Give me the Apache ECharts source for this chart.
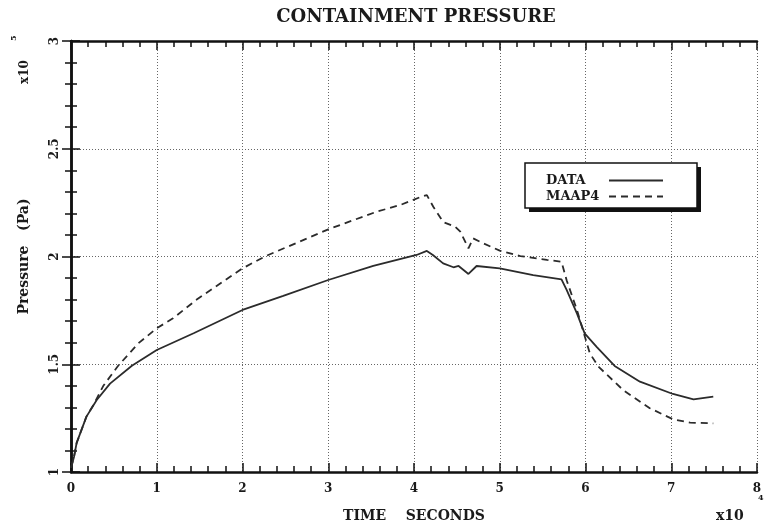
<!DOCTYPE html>
<html>
<head>
<meta charset="utf-8">
<script src="https://cdn.jsdelivr.net/npm/echarts@6/dist/echarts.min.js"></script>
<style>
html,body{margin:0;padding:0;background:#fff;}
#chart{width:770px;height:531px;}
</style>
</head>
<body>
<div id="chart"></div>
<script>
// Time in units of 1e4 s, pressure in units of 1e5 Pa
const dataT = [0, 0.035, 0.066, 0.18, 0.30, 0.455, 0.71, 1.0, 1.43, 2.0, 2.475, 3.0, 3.525, 4.03, 4.15, 4.22, 4.34, 4.46, 4.52, 4.635, 4.73, 5.0, 5.39, 5.72, 5.78, 5.9, 5.99, 6.13, 6.34, 6.635, 7.02, 7.26, 7.49];
const dataP = [1.02, 1.07, 1.135, 1.257, 1.334, 1.41, 1.493, 1.566, 1.644, 1.752, 1.817, 1.891, 1.956, 2.007, 2.026, 2.007, 1.968, 1.95, 1.956, 1.919, 1.956, 1.945, 1.914, 1.894, 1.845, 1.736, 1.643, 1.581, 1.492, 1.419, 1.362, 1.337, 1.35];

const maapT = [0, 0.035, 0.066, 0.18, 0.26, 0.377, 0.55, 0.785, 1.0, 1.19, 1.466, 2.0, 2.26, 3.0, 3.565, 3.84, 4.07, 4.15, 4.225, 4.34, 4.48, 4.54, 4.635, 4.69, 4.81, 5.0, 5.24, 5.55, 5.72, 5.78, 5.9, 5.975, 6.05, 6.15, 6.44, 6.75, 7.02, 7.22, 7.49];
const maapP = [1.02, 1.07, 1.135, 1.257, 1.31, 1.40, 1.493, 1.597, 1.667, 1.713, 1.80, 1.945, 2.0, 2.126, 2.208, 2.239, 2.275, 2.285, 2.231, 2.16, 2.138, 2.115, 2.038, 2.084, 2.061, 2.027, 2.002, 1.984, 1.976, 1.89, 1.752, 1.651, 1.551, 1.489, 1.38, 1.296, 1.245, 1.229, 1.226];

const seriesNames = ['DATA', 'MAAP4'];
const xTicks = {min: 0, max: 8, interval: 1};
const yTicks = {min: 1, max: 3, interval: 0.5};

const FONT = 'DejaVu Serif';
const INK = '#1a1a1a';

function zip(a, b) { return a.map((v, i) => [v, b[i]]); }

const chart = echarts.init(document.getElementById('chart'), null, {renderer: 'canvas'});

const axisLineStyle = {show: true, lineStyle: {color: '#111', width: 2.5}};
const tickStyle = {show: true, inside: true, length: 9, lineStyle: {color: '#111', width: 1.5}};
const minorStyle = {show: true, splitNumber: 5, length: 6, lineStyle: {color: '#111', width: 1.5}};

const option = {
  backgroundColor: '#fff',
  animation: false,
  grid: {left: 71, right: 13, top: 41, bottom: 59, containLabel: false},
  xAxis: [{
    type: 'value', min: xTicks.min, max: xTicks.max, interval: xTicks.interval,
    position: 'bottom',
    axisLine: axisLineStyle, axisTick: tickStyle, minorTick: minorStyle,
    splitLine: {show: true, lineStyle: {color: '#666', width: 1, type: [1, 2]}},
    axisLabel: {margin: 11, color: INK, fontFamily: FONT, fontWeight: 'bold', fontSize: 12},
    name: 'TIME    SECONDS', nameLocation: 'middle', nameGap: 37,
    nameTextStyle: {color: INK, fontFamily: FONT, fontWeight: 'bold', fontSize: 14}
  }, {
    type: 'value', min: xTicks.min, max: xTicks.max, interval: xTicks.interval,
    position: 'top',
    axisLine: axisLineStyle, axisTick: tickStyle, minorTick: minorStyle,
    splitLine: {show: false}, axisLabel: {show: false}
  }],
  yAxis: [{
    type: 'value', min: yTicks.min, max: yTicks.max, interval: yTicks.interval,
    position: 'left',
    axisLine: axisLineStyle, axisTick: tickStyle, minorTick: minorStyle,
    splitLine: {show: true, lineStyle: {color: '#666', width: 1, type: [1, 2]}},
    axisLabel: {margin: 10, rotate: 90, color: INK, fontFamily: FONT, fontWeight: 'bold', fontSize: 12},
    name: 'Pressure   (Pa)', nameLocation: 'middle', nameGap: 40, nameRotate: 90,
    nameTextStyle: {color: INK, fontFamily: FONT, fontWeight: 'bold', fontSize: 14}
  }, {
    type: 'value', min: yTicks.min, max: yTicks.max, interval: yTicks.interval,
    position: 'right',
    axisLine: axisLineStyle, axisTick: tickStyle, minorTick: minorStyle,
    splitLine: {show: false}, axisLabel: {show: false}
  }],
  legend: {
    data: seriesNames,
    orient: 'vertical',
    left: 541, top: 169,
    align: 'right',
    itemGap: 3,
    itemWidth: 54, itemHeight: 13,
    z: 10,
    itemStyle: {opacity: 0},
    formatter: '{t|{name}}',
    textStyle: {
      color: INK, fontFamily: FONT, fontWeight: 'bold', fontSize: 13,
      rich: {t: {width: 58, align: 'left', color: INK, fontFamily: FONT, fontWeight: 'bold', fontSize: 13}}
    }
  },
  graphic: [
    {type: 'rect', z: 5, shape: {x: 529, y: 167, width: 172, height: 45}, style: {fill: '#111'}},
    {type: 'rect', z: 6, shape: {x: 525, y: 163, width: 172, height: 45}, style: {fill: '#fff', stroke: '#111', lineWidth: 1.5}},
    {type: 'text', z: 10, x: 416, y: 8, style: {text: 'CONTAINMENT PRESSURE', textAlign: 'center', fill: INK, font: 'bold 18px "DejaVu Serif"'}},
    {type: 'text', z: 10, x: 19, y: 84, rotation: Math.PI / 2, style: {text: 'x10', fill: INK, font: 'bold 12px "DejaVu Serif"'}},
    {type: 'text', z: 10, x: 10, y: 41, rotation: Math.PI / 2, style: {text: '5', fill: INK, font: 'bold 8px "DejaVu Serif"'}},
    {type: 'text', z: 10, x: 716, y: 509, style: {text: 'x10', fill: INK, font: 'bold 14px "DejaVu Serif"'}},
    {type: 'text', z: 10, x: 758, y: 494, style: {text: '4', fill: INK, font: 'bold 8px "DejaVu Serif"'}}
  ],
  series: [{
    name: seriesNames[0], type: 'line', xAxisIndex: 0, yAxisIndex: 0,
    data: zip(dataT, dataP), symbol: 'none', smooth: false,
    lineStyle: {color: '#2b2b2b', width: 1.8, type: 'solid'},
    itemStyle: {color: '#2b2b2b'}
  }, {
    name: seriesNames[1], type: 'line', xAxisIndex: 0, yAxisIndex: 0,
    data: zip(maapT, maapP), symbol: 'none', smooth: false,
    lineStyle: {color: '#2b2b2b', width: 1.8, type: [7, 5]},
    itemStyle: {color: '#2b2b2b'}
  }]
};
chart.setOption(option);
</script>
</body>
</html>
